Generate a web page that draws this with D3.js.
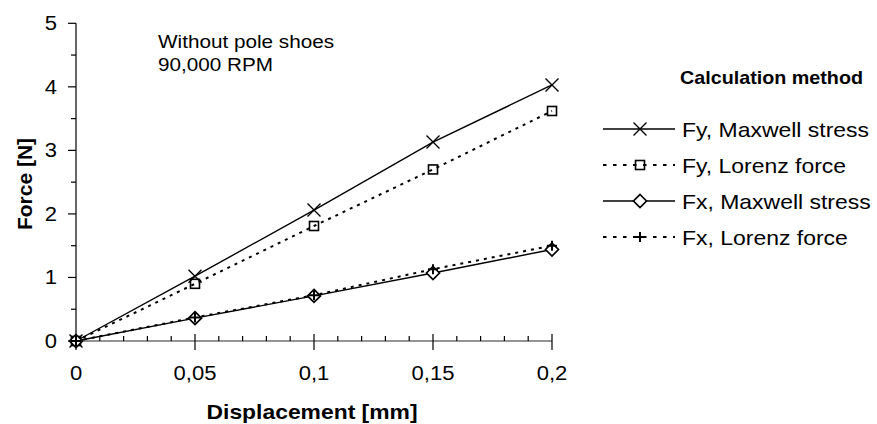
<!DOCTYPE html>
<html>
<head>
<meta charset="utf-8">
<script src="https://cdn.jsdelivr.net/npm/d3@7"></script>
<style>
  html, body { margin: 0; padding: 0; background: #fff; }
  svg { display: block; font-family: "Liberation Sans", Arial, sans-serif; }
</style>
</head>
<body>
<svg id="chart" width="877" height="424"></svg>
<script>
// ---- data ----
const displacement = [0, 0.05, 0.1, 0.15, 0.2];
const fyMaxwell = [0, 1.02, 2.06, 3.13, 4.03];
const fyLorenz  = [0, 0.90, 1.81, 2.70, 3.62];
const fxMaxwell = [0, 0.36, 0.71, 1.07, 1.44];
const fxLorenz  = [0, 0.37, 0.72, 1.13, 1.50];
const seriesNames = ["Fy, Maxwell stress", "Fy, Lorenz force", "Fx, Maxwell stress", "Fx, Lorenz force"];
const xTicks = [0, 0.05, 0.1, 0.15, 0.2];
const xTickLabels = ["0", "0,05", "0,1", "0,15", "0,2"];
const yTicks = [0, 1, 2, 3, 4, 5];
const yTickLabels = ["0", "1", "2", "3", "4", "5"];
const xTitle = "Displacement [mm]";
const yTitle = "Force [N]";
const annotation = ["Without pole shoes", "90,000 RPM"];
const legendTitle = "Calculation method";

const series = [
  { name: seriesNames[0], values: fyMaxwell, dashed: false, marker: "x" },
  { name: seriesNames[1], values: fyLorenz,  dashed: true,  marker: "square" },
  { name: seriesNames[2], values: fxMaxwell, dashed: false, marker: "diamond" },
  { name: seriesNames[3], values: fxLorenz,  dashed: true,  marker: "plus" }
];

const svg = d3.select("#chart");

const x = d3.scaleLinear().domain([0, 0.2]).range([76, 552]);
const y = d3.scaleLinear().domain([0, 5]).range([341, 23.3]);

function txt(parent, str, px, py, o = {}) {
  const t = parent.append("text")
    .attr("transform", `translate(${px},${py}) scale(${o.sx || 1},1)`)
    .attr("text-anchor", o.anchor || "start")
    .attr("font-size", o.size || 18)
    .attr("font-weight", o.weight || "normal")
    .attr("fill", "#000")
    .text(str);
  if (o.family) t.attr("font-family", o.family);
  if (o.len) t.attr("textLength", o.len).attr("lengthAdjust", "spacingAndGlyphs");
  return t;
}

// ---- axes ----
const axes = svg.append("g");
axes.append("line").attr("x1", x(0)).attr("x2", x(0)).attr("y1", y(5)).attr("y2", y(0))
  .attr("stroke", "#000").attr("stroke-width", 1.2);
axes.selectAll(".ymaj").data(yTicks).join("line")
  .attr("x1", x(0) - 8).attr("x2", x(0))
  .attr("y1", d => y(d)).attr("y2", d => y(d))
  .attr("stroke", "#000").attr("stroke-width", 1.2);
axes.selectAll(".ymin").data(d3.range(0.5, 5, 1)).join("line")
  .attr("x1", x(0) - 5).attr("x2", x(0))
  .attr("y1", d => y(d)).attr("y2", d => y(d))
  .attr("stroke", "#000").attr("stroke-width", 1.2);
axes.append("line").attr("x1", x(0)).attr("x2", x(0.2)).attr("y1", y(0)).attr("y2", y(0))
  .attr("stroke", "#707070").attr("stroke-width", 1.4);
axes.selectAll(".xmin").data(d3.range(1, 20).filter(i => i % 5 !== 0).map(i => i * 0.01)).join("line")
  .attr("x1", d => x(d)).attr("x2", d => x(d))
  .attr("y1", y(0) - 5).attr("y2", y(0))
  .attr("stroke", "#000").attr("stroke-width", 1.2);
axes.selectAll(".xmaj").data(xTicks).join("line")
  .attr("x1", d => x(d)).attr("x2", d => x(d))
  .attr("y1", y(0) - 7).attr("y2", y(0) + 9)
  .attr("stroke", "#000").attr("stroke-width", 1.2);

// tick labels
yTicks.forEach((v, i) => txt(axes, yTickLabels[i], 57, y(v) + 7, { anchor: "end", size: 19.5, sx: 1.13 }));
xTicks.forEach((v, i) => txt(axes, xTickLabels[i], x(v), 380, { anchor: "middle", size: 19.5, sx: 1.13 }));

// axis titles
txt(svg, xTitle, 312, 419, { anchor: "middle", size: 21, weight: "bold", len: 211 });
svg.append("text")
  .attr("transform", `translate(32,184) rotate(-90)`)
  .attr("text-anchor", "middle")
  .attr("font-size", 21).attr("font-weight", "bold")
  .text(yTitle);

// annotation
txt(svg, annotation[0], 158, 48, { size: 19, sx: 1.09 });
txt(svg, annotation[1], 158, 71, { size: 19, sx: 1.09 });

// ---- series ----
function drawMarker(g, type, cx, cy) {
  if (type === "x") {
    const s = 6.5;
    g.append("path").attr("d", `M${cx - s},${cy - s}L${cx + s},${cy + s}M${cx - s},${cy + s}L${cx + s},${cy - s}`)
      .attr("stroke", "#000").attr("stroke-width", 1.4).attr("fill", "none");
  } else if (type === "square") {
    const s = 4.5;
    g.append("rect").attr("x", cx - s).attr("y", cy - s).attr("width", 2 * s).attr("height", 2 * s)
      .attr("stroke", "#000").attr("stroke-width", 1.6).attr("fill", "none");
  } else if (type === "diamond") {
    const s = 6.5;
    g.append("path").attr("d", `M${cx},${cy - s}L${cx + s},${cy}L${cx},${cy + s}L${cx - s},${cy}Z`)
      .attr("stroke", "#000").attr("stroke-width", 1.7).attr("fill", "#fff");
  } else if (type === "plus") {
    const s = 5;
    g.append("path").attr("d", `M${cx - s},${cy}L${cx + s},${cy}M${cx},${cy - s}L${cx},${cy + s}`)
      .attr("stroke", "#000").attr("stroke-width", 2).attr("fill", "none");
  }
}

const line = d3.line().x(d => x(d[0])).y(d => y(d[1]));
const plot = svg.append("g");
series.forEach(s => {
  const pts = displacement.map((d, i) => [d, s.values[i]]);
  plot.append("path").attr("d", line(pts))
    .attr("fill", "none").attr("stroke", "#000")
    .attr("stroke-width", s.dashed ? 2 : 1.4)
    .attr("stroke-dasharray", s.dashed ? "3,5" : null);
});
series.forEach(s => {
  const g = plot.append("g");
  displacement.forEach((d, i) => drawMarker(g, s.marker, x(d), y(s.values[i])));
});

// ---- legend ----
const lg = svg.append("g");
txt(lg, legendTitle, 680, 84, { size: 19, weight: "bold", len: 183,
  family: "'Liberation Sans Narrow', 'Liberation Sans', Arial, sans-serif" });
const rowY = [129, 165, 201, 237];
series.forEach((s, i) => {
  const ry = rowY[i];
  lg.append("line").attr("x1", 603).attr("x2", 675).attr("y1", ry).attr("y2", ry)
    .attr("stroke", "#000").attr("stroke-width", s.dashed ? 2 : 1.4)
    .attr("stroke-dasharray", s.dashed ? "3.5,6.5" : null);
  drawMarker(lg, s.marker, 640, ry);
  txt(lg, s.name, 682, ry + 7.5, { size: 20.5, sx: 1.12 });
});
</script>
</body>
</html>
